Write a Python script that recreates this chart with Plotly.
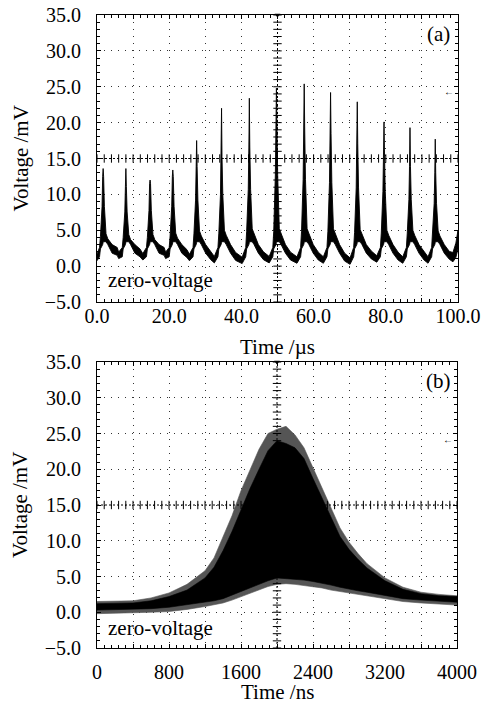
import numpy as np
import plotly.graph_objects as go

# ---------------- panel (a): pulse train, time in microseconds ----------------
pulse_time = [1.7, 8.0, 14.7, 21.0, 27.6, 34.5, 42.2, 49.7, 57.4, 64.7, 72.1, 79.5, 86.7, 93.7]
pulse_peak = [13.6, 13.6, 12.0, 13.4, 17.5, 22.0, 23.4, 24.8, 25.4, 24.2, 22.9, 20.1, 19.3, 17.7]
pulse_body = [12.5, 11.1, 11.5, 12.5, 13.9, 15.3, 16.6, 20.6, 19.4, 18.5, 17.1, 16.2, 13.9, 13.0]
pulse_shoulder = [4.1, 4.0, 4.0, 4.2, 4.5, 4.6, 4.8, 4.8, 4.8, 4.8, 4.7, 4.6, 4.6, 4.5]
trough_level = [1.2, 1.5, 1.3, 1.5, 1.2, 0.9, 0.8, 0.9, 0.85, 0.85, 0.7, 1.0, 0.85, 0.85, 0.95]
# typical band levels around a pulse (upper / lower edge of the noisy trace)
rise_upper, rise_lower = 2.6, 1.3
wedge_lower = [2.4, 3.0, 3.3, 3.4, 3.4, 3.3]
decay_upper, decay_lower = 3.0, 1.8
end_time = [98.6, 99.4, 100.0]
end_upper = [1.9, 3.2, 5.0]
end_lower = [0.6, 1.2, 2.4]

# ---------------- panel (b): single burst, time in nanoseconds ----------------
b_time = [0, 200, 400, 600, 800, 1000, 1200, 1300, 1400, 1500, 1600, 1700, 1800, 1900, 2000,
          2100, 2200, 2300, 2400, 2500, 2600, 2700, 2800, 2900, 3000, 3200, 3400, 3600, 3800, 4000]
b_outer_upper = [1.5, 1.5, 1.6, 2.0, 2.7, 3.9, 5.8, 7.6, 10.5, 13.5, 17.0, 20.0, 22.8, 25.0, 25.6,
                 26.0, 24.8, 23.0, 20.2, 17.6, 14.7, 11.8, 9.8, 8.2, 6.8, 4.8, 3.5, 2.8, 2.5, 2.3]
b_core_upper = [1.2, 1.2, 1.3, 1.6, 2.2, 3.1, 4.8, 6.3, 8.6, 11.3, 14.3, 17.3, 20.0, 22.6, 24.0,
                23.6, 23.0, 21.5, 18.7, 16.0, 13.2, 10.6, 8.8, 7.4, 6.2, 4.4, 3.2, 2.6, 2.3, 2.2]
b_core_lower = [0.3, 0.3, 0.4, 0.5, 0.7, 1.0, 1.4, 1.6, 1.9, 2.3, 2.8, 3.3, 3.9, 4.4, 4.8,
                4.8, 4.6, 4.5, 4.3, 4.1, 3.8, 3.5, 3.2, 3.0, 2.8, 2.4, 1.9, 1.7, 1.5, 1.4]
b_outer_lower = [-0.2, -0.2, -0.1, 0.0, 0.1, 0.4, 0.8, 1.0, 1.3, 1.7, 2.1, 2.6, 3.1, 3.6, 3.9,
                 4.0, 3.9, 3.8, 3.6, 3.4, 3.1, 2.9, 2.6, 2.4, 2.2, 1.9, 1.5, 1.3, 1.1, 1.0]

y_ticks = [-5, 0, 5, 10, 15, 20, 25, 30, 35]
y_ticktext = ["\u22125.0", "0.0", "5.0", "10.0", "15.0", "20.0", "25.0", "30.0", "35.0"]
a_xticks = list(range(0, 101, 10))
a_xtext = ["0.0", "", "20.0", "", "40.0", "", "60.0", "", "80.0", "", "100.0"]
b_xticks = list(range(0, 4001, 400))
b_xtext = ["0", "", "800", "", "1600", "", "2400", "", "3200", "", "4000"]

FONT = "Liberation Serif"
FS = 20

# ---- build the noisy band polygon of panel (a) ----
up_t, up_v, lo_t, lo_v = [0.0], [trough_level[0] + 0.45], [0.0], [trough_level[0] - 0.45]
for k, tp in enumerate(pulse_time):
    P, B, S = pulse_peak[k], pulse_body[k], pulse_shoulder[k]
    Tb, Ta = trough_level[k], trough_level[k + 1]
    M = 0.5 * (S + B)
    if k > 0:
        up_t.append(tp - 2.0); up_v.append(Tb + 0.45)
        lo_t.append(tp - 2.0); lo_v.append(Tb - 0.45)
    for dt, u in [(-1.0, rise_upper), (-0.75, S), (-0.3, M), (-0.13, B), (0.0, P), (0.13, B),
                  (0.35, M), (0.8, S + 0.4), (1.3, S - 0.3), (2.5, decay_upper), (3.9, Ta + 1.1)]:
        up_t.append(tp + dt); up_v.append(u)
    for dt, l in [(-1.0, rise_lower), (-0.75, wedge_lower[0]), (-0.13, wedge_lower[1]), (0.0, wedge_lower[2]),
                  (0.13, wedge_lower[3]), (0.8, wedge_lower[4]), (1.3, wedge_lower[5] - 0.3),
                  (2.5, decay_lower), (3.9, Ta)]:
        lo_t.append(tp + dt); lo_v.append(l)
up_t += end_time; up_v += end_upper
lo_t += end_time; lo_v += end_lower

fig = go.Figure()
fig.add_trace(go.Scatter(x=up_t + lo_t[::-1], y=up_v + lo_v[::-1], mode="lines", fill="toself",
                         fillcolor="black", line=dict(color="black", width=0.9),
                         xaxis="x", yaxis="y", hoverinfo="skip"))

# ---- panel (b) bands ----
fig.add_trace(go.Scatter(x=b_time + b_time[::-1], y=b_outer_upper + b_outer_lower[::-1], mode="lines",
                         fill="toself", fillcolor="#555555", line=dict(color="#555555", width=0.6),
                         xaxis="x2", yaxis="y2", hoverinfo="skip"))
fig.add_trace(go.Scatter(x=b_time + b_time[::-1], y=b_core_upper + b_core_lower[::-1], mode="lines",
                         fill="toself", fillcolor="black", line=dict(color="black", width=0.6),
                         xaxis="x2", yaxis="y2", hoverinfo="skip"))

# ---- centre crosshairs with graticule ticks ----
def crosshair(xa, ya, xmax, xc, xstep):
    xs = np.arange(0, xmax + 1e-9, xstep)
    fig.add_trace(go.Scatter(x=xs, y=[15] * len(xs), mode="lines+markers",
                             line=dict(color="black", width=1, dash="2px,2px"),
                             marker=dict(symbol="line-ns", size=6, line=dict(width=1, color="black")),
                             xaxis=xa, yaxis=ya, hoverinfo="skip"))
    ys = np.arange(-5, 35 + 1e-9, 1)
    fig.add_trace(go.Scatter(x=[xc] * len(ys), y=ys, mode="lines+markers",
                             line=dict(color="black", width=1, dash="2px,2px"),
                             marker=dict(symbol="line-ew", size=6, line=dict(width=1, color="black")),
                             xaxis=xa, yaxis=ya, hoverinfo="skip"))
    fig.add_trace(go.Scatter(x=[xc], y=[35], mode="markers", cliponaxis=False,
                             marker=dict(symbol="triangle-down", size=5, color="black"),
                             xaxis=xa, yaxis=ya, hoverinfo="skip"))

crosshair("x", "y", 100, 50, 2)
crosshair("x2", "y2", 4000, 2000, 80)

axis_common = dict(showline=True, linecolor="black", linewidth=1, mirror="allticks",
                   ticks="inside", ticklen=4, tickcolor="black", showgrid=True, automargin=False,
                   gridcolor="#333333", gridwidth=1, griddash="1px,6px", zeroline=False,
                   tickfont=dict(family=FONT, size=FS, color="black"))

TOP, BOT = 15, 648
H = BOT - TOP
h_top = (BOT - 302) / H
h_bot = (BOT - 362) / H

fig.update_layout(
    width=481, height=707, margin=dict(l=97, r=23, t=TOP, b=707 - BOT, autoexpand=False),
    paper_bgcolor="white", plot_bgcolor="white", showlegend=False,
    font=dict(family=FONT, color="black"),
    xaxis=dict(domain=[0, 1], range=[0, 100], tickvals=a_xticks, ticktext=a_xtext, anchor="y",
               minor=dict(dtick=2, ticks="inside", ticklen=3, tickcolor="black", showgrid=False),
               ticklabelstandoff=-4, **axis_common),
    yaxis=dict(domain=[h_top, 1], range=[-5, 35], tickvals=y_ticks, ticktext=y_ticktext, anchor="x",
               minor=dict(dtick=1, ticks="inside", ticklen=3, tickcolor="black", showgrid=False),
               ticklabelstandoff=11, **axis_common),
    xaxis2=dict(domain=[0, 360 / 361], range=[0, 4000], tickvals=b_xticks, ticktext=b_xtext, anchor="y2",
                minor=dict(dtick=80, ticks="inside", ticklen=3, tickcolor="black", showgrid=False),
                ticklabelstandoff=6, **axis_common),
    yaxis2=dict(domain=[0, h_bot], range=[-5, 35], tickvals=y_ticks, ticktext=y_ticktext, anchor="x2",
                minor=dict(dtick=1, ticks="inside", ticklen=3, tickcolor="black", showgrid=False),
                ticklabelstandoff=11, **axis_common),
)

def py2paper(py):
    return (BOT - py) / H

def px2paper(px):
    return (px - 97) / 361

ann_font = dict(family=FONT, size=21, color="black")
title_kw = dict(xref="paper", yref="paper", showarrow=False, font=ann_font,
                xanchor="center", yanchor="middle")
# axis titles
fig.add_annotation(x=px2paper(277.5), y=py2paper(347), text="Time /\u00b5s", **title_kw)
fig.add_annotation(x=px2paper(277), y=py2paper(692), text="Time /ns", **title_kw)
fig.add_annotation(x=px2paper(20), y=py2paper(158.5), text="Voltage /mV", textangle=-90, **title_kw)
fig.add_annotation(x=px2paper(20), y=py2paper(505), text="Voltage /mV", textangle=-90, **title_kw)

fig.add_annotation(x=94.5, y=32.35, xref="x", yref="y", text="(a)", showarrow=False, font=ann_font)
fig.add_annotation(x=3789, y=32.3, xref="x2", yref="y2", text="(b)", showarrow=False, font=ann_font)
fig.add_annotation(x=2.5, y=-1.9, xref="x", yref="y", text="zero-voltage", showarrow=False,
                   xanchor="left", yanchor="middle", font=ann_font)
fig.add_annotation(x=100, y=-2.2, xref="x2", yref="y2", text="zero-voltage", showarrow=False,
                   xanchor="left", yanchor="middle", font=ann_font)
fig.add_annotation(x=97.5, y=24.3, xref="x", yref="y", text="\u2190", showarrow=False,
                   font=dict(family=FONT, size=10, color="black"))
fig.add_annotation(x=3900, y=24.2, xref="x2", yref="y2", text="\u2190", showarrow=False,
                   font=dict(family=FONT, size=10, color="black"))

fig.write_html("out.html", config={"displayModeBar": False},
               post_script="document.body.style.margin='0';")
